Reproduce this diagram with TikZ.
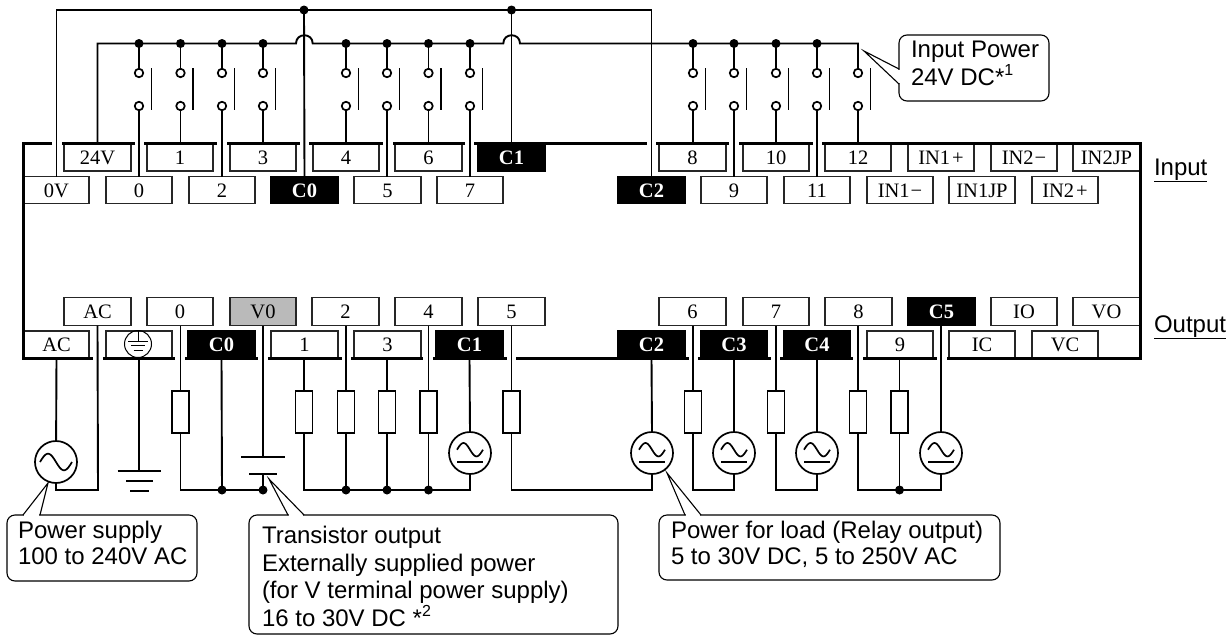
\documentclass[tikz,border=0pt]{standalone}
\usepackage{fontspec}
\setmainfont{Liberation Serif}
\newfontfamily\sansf{Liberation Sans}
\tikzset{
  x=1pt,y=-1pt,
  wire/.style={line width=1.9pt,line join=miter},
  frame/.style={line width=3pt},
  tbox/.style={draw=black!85,line width=1.3pt,fill=white,inner sep=0pt,outer sep=0pt,text height=14pt,text depth=0pt,font=\fontsize{20.5}{21}\selectfont},
  tblack/.style={tbox,draw=black,fill=black,text=white,font=\fontsize{20.5}{21}\bfseries\selectfont},
  tgray/.style={tbox,fill=black!27},
  dotn/.style={circle,fill=black,draw=none,minimum size=9pt,inner sep=0pt,outer sep=0pt},
  opn/.style={circle,draw=black,fill=white,line width=1.7pt,minimum size=8.5pt,inner sep=0pt,outer sep=0pt},
  res/.style={draw=black,fill=white,line width=1.7pt,minimum width=17pt,minimum height=42pt,inner sep=0pt,outer sep=0pt},
  src/.style={circle,draw=black,fill=white,line width=1.7pt,minimum size=42pt,inner sep=0pt,outer sep=0pt},
  bar/.style={line width=1.7pt},
  cbox/.style={draw=black,line width=1.1pt,fill=white,rounded corners=8pt,inner sep=0pt,outer sep=0pt},
  ctext/.style={inner sep=0pt,outer sep=0pt,anchor=north west,align=left},
  lbl/.style={inner sep=0pt,outer sep=0pt,anchor=base west,font=\sansf\fontsize{24}{27}\selectfont},
}
% terminal: [style]{name}{x1}{x2}{y1}{y2}{text}
\newcommand\term[7][tbox]{%
  \pgfmathsetmacro\tmw{#4-#3}\pgfmathsetmacro\tmh{#6-#5}%
  \pgfmathsetmacro\tmx{(#3+#4)/2}\pgfmathsetmacro\tmy{(#5+#6)/2}%
  \node[#1,minimum width=\tmw pt,minimum height=\tmh pt] (#2) at (\tmx,\tmy) {#7};%
}
\newcommand\sw[2]{% switch pair: name, x
  \node[opn] (sa#1) at (#2,73) {};
  \node[opn] (sb#1) at (#2,106) {};
  \draw[bar] ({#2+12.5},68) -- ({#2+12.5},110);
}
\newcommand\dcsrc[3]{% AC-with-bar source
  \node[src] (#1) at (#2,#3) {};
  \draw[bar,shift={(#2,#3)}] plot[domain=-13:13,samples=33,smooth] (\x,{-3.3+6.7*sin(\x*180/13)});
  \draw[bar,shift={(#2,#3)}] (-13,9) -- (13,9);
}
\begin{document}
\begin{tikzpicture}
\useasboundingbox (0,0) rectangle (1232,635);
% --- input terminals, upper row
\def\ya{143.5}\def\yb{171}
\term{t24}{64}{131}{\ya}{\yb}{24V}
\term{ti1}{147}{213}{\ya}{\yb}{1}
\term{ti3}{230}{296}{\ya}{\yb}{3}
\term{ti4}{313}{379}{\ya}{\yb}{4}
\term{ti6}{395}{462}{\ya}{\yb}{6}
\term[tblack]{tiC1}{478}{545}{\ya}{\yb}{C1}
\term{ti8}{659}{726}{\ya}{\yb}{8}
\term{ti10}{743}{809}{\ya}{\yb}{10}
\term{ti12}{825}{891}{\ya}{\yb}{12}
\term{tiIp}{908}{974}{\ya}{\yb}{IN1\kern2pt+}
\term{tiIIm}{991}{1057}{\ya}{\yb}{IN2\kern1pt−}
\term{tiIIJ}{1073}{1140}{\ya}{\yb}{IN2JP}
% --- input terminals, lower row
\def\ya{176.5}\def\yb{203.5}
\term{t0V}{24}{89}{\ya}{\yb}{0V}
\term{ti0}{106}{172}{\ya}{\yb}{0}
\term{ti2}{189}{255}{\ya}{\yb}{2}
\term[tblack]{tiC0}{271}{338}{\ya}{\yb}{C0}
\term{ti5}{354}{421}{\ya}{\yb}{5}
\term{ti7}{437}{503}{\ya}{\yb}{7}
\term[tblack]{tiC2}{618}{685}{\ya}{\yb}{C2}
\term{ti9}{701}{767}{\ya}{\yb}{9}
\term{ti11}{784}{850}{\ya}{\yb}{11}
\term{tiIm}{867}{933}{\ya}{\yb}{IN1\kern1pt−}
\term{tiIJ}{949}{1015}{\ya}{\yb}{IN1JP}
\term{tiIIp}{1032}{1098}{\ya}{\yb}{IN2\kern2pt+}
% --- output terminals, upper row
\def\ya{297.5}\def\yb{325.5}
\term{toAC}{64}{131}{\ya}{\yb}{AC}
\term{to0}{147}{213}{\ya}{\yb}{0}
\term[tgray]{toV}{230}{296}{\ya}{\yb}{V0}
\term{to2}{312}{379}{\ya}{\yb}{2}
\term{to4}{395}{462}{\ya}{\yb}{4}
\term{to5}{478}{545}{\ya}{\yb}{5}
\term{to6}{659}{726}{\ya}{\yb}{6}
\term{to7}{743}{809}{\ya}{\yb}{7}
\term{to8}{825}{892}{\ya}{\yb}{8}
\term[tblack]{toC5}{908}{975}{\ya}{\yb}{C5}
\term{toIO}{991}{1057}{\ya}{\yb}{IO}
\term{toVO}{1073}{1140}{\ya}{\yb}{VO}
% --- output terminals, lower row
\def\ya{331}\def\yb{358}
\term{tuAC}{24}{89}{\ya}{\yb}{AC}
\term{tuE}{106}{172}{\ya}{\yb}{}
\term[tblack]{tuC0}{188}{255}{\ya}{\yb}{C0}
\term{tu1}{271}{338}{\ya}{\yb}{1}
\term{tu3}{354}{421}{\ya}{\yb}{3}
\term[tblack]{tuC1}{436}{503}{\ya}{\yb}{C1}
\term[tblack]{tuC2}{618}{685}{\ya}{\yb}{C2}
\term[tblack]{tuC3}{701}{767}{\ya}{\yb}{C3}
\term[tblack]{tuC4}{784}{850}{\ya}{\yb}{C4}
\term{tu9}{867}{933}{\ya}{\yb}{9}
\term{tuIC}{949}{1015}{\ya}{\yb}{IC}
\term{tuVC}{1032}{1098}{\ya}{\yb}{VC}
% earth symbol inside terminal
\node[circle,draw=black,line width=1pt,minimum size=27pt,inner sep=0pt] (earth) at (138,344) {};
\draw[line width=1pt] (earth.north) -- (138,341);
\draw[line width=1pt] (128,341) -- (148,341) (131,345.5) -- (145,345.5) (133.5,350) -- (142.5,350);
% --- frame
\draw[frame] (52,143.5) -- (23,143.5) -- (23,358) -- (93,358);
\draw[frame] (947,358) -- (1140,358) -- (1140,143.5) -- (822,143.5);
\foreach \a/\b in {62/135,144/217,227/300,309/383,393/465,474/647,656/729,739/813}
  \draw[frame] (\a,143.5) -- (\b,143.5);
\foreach \a/\b in {103/175,185/258,268/342,351/423,433/507,516/689,698/771,780/853,863/937}
  \draw[frame] (\a,358) -- (\b,358);
% --- input wiring
\node[dotn] (ct1) at (304,10) {};
\node[dotn] (ct2) at (511.5,10) {};
\draw[wire] (t0V.north) |- (ct1.center) -- (ct2.center) -| (tiC2.north);
\draw[wire] (ct1.center) -- (tiC0.north);
\draw[wire] (ct2.center) -- (tiC1.north);
\foreach \n/\p in {a/139,b/180.5,c/222,d/263,e/346,f/387,g/428.5,h/470,i/693,j/734,k/776,l/817}{
  \node[dotn] (d\n) at (\p,43.5) {};
}
\foreach \n/\p in {a/139,b/180.5,c/222,d/263,e/346,f/387,g/428.5,h/470,i/693,j/734,k/776,l/817,m/858}{
  \sw{\n}{\p}
}
\coordinate (jA) at (296,43.5);\coordinate (jB) at (312.7,43.5);
\coordinate (jC) at (503.3,43.5);\coordinate (jD) at (520,43.5);
\coordinate (jK) at (858,43.5);
\draw[wire] (t24.north) |- (da.center) -- (db.center) -- (dc.center) -- (dd.center) -- (jA)
  .. controls (296,32.5) and (312.7,32.5) .. (jB) -- (de.center) -- (df.center) -- (dg.center) -- (dh.center) -- (jC)
  .. controls (503.3,32.5) and (520,32.5) .. (jD) -- (di.center) -- (dj.center) -- (dk.center) -- (dl.center) -- (jK) -- (sam);
\foreach \n in {a,b,c,d,e,f,g,h,i,j,k,l}{
  \draw[wire] (d\n.center) -- (sa\n);
}
\foreach \n/\t in {a/ti0,b/ti1,c/ti2,d/ti3,e/ti4,f/ti5,g/ti6,h/ti7,i/ti8,j/ti9,k/ti10,l/ti11,m/ti12}{
  \draw[wire] (sb\n) -- (sb\n |- \t.north);
}
% --- output wiring: resistors
\foreach \n/\p in {a/180.5,b/304,c/346,d/387,e/428.5,f/511.5,g/693,h/776,i/858,j/899.5}{
  \node[res] (r\n) at (\p,412) {};
}
\dcsrc{sC1}{470}{453}
\dcsrc{sC2}{652}{453}
\dcsrc{sC3}{734}{453}
\dcsrc{sC4}{817}{453}
\dcsrc{sC5}{941}{453}
\node[src] (sP) at (56,462) {};
\draw[bar,shift={(56,462)}] plot[domain=-16:16,samples=33,smooth] (\x,{8.3*sin(\x*180/16)});
\foreach \n/\p in {c/222,d/263,e/346,f/387,g/428.5,h/899.5}{
  \node[dotn] (b\n) at (\p,490) {};
}
\foreach \n/\t in {a/to0,b/tu1,c/to2,d/tu3,e/to4,f/to5,g/to6,h/to7,i/to8,j/tu9}{
  \draw[wire] (r\n |- \t.south) -- (r\n);
}
% AC mains
\coordinate (kP) at (98,490);
\draw[wire] (tuAC.south) -- (sP);
\draw[wire] (sP.south) |- (kP) -- (toAC.south);
% earth
\coordinate (gnd) at (139,471);
\draw[wire] (tuE.south) -- (gnd);
\draw[line width=1.9pt] (117.5,471) -- (160.5,471) (126,481) -- (153,481) (130,491) -- (149,491);
% transistor output common
\draw[wire] (ra.south) |- (bc.center) -- (bd.center);
\draw[wire] (tuC0.south) -- (bc.center);
\node[inner sep=0pt,minimum width=43pt] (plA) at (263,457) {};
\node[inner sep=0pt,minimum width=27pt] (plB) at (263,474) {};
\draw[wire] (toV.south) -- (plA.center);
\draw[line width=1.5pt] (plA.west) -- (plA.east);
\draw[line width=2.4pt] (plB.west) -- (plB.east);
\draw[wire] (plB.center) -- (bd.center);
% relay groups
\draw[wire] (rb.south) |- (be.center) -- (bf.center) -- (bg.center) -| (sC1.south);
\draw[wire] (rc.south) -- (be.center);
\draw[wire] (rd.south) -- (bf.center);
\draw[wire] (re.south) -- (bg.center);
\draw[wire] (tuC1.south) -- (sC1.north);
\coordinate (k5) at (511.5,490);
\draw[wire] (rf.south) -- (k5) -| (sC2.south);
\draw[wire] (tuC2.south) -- (sC2.north);
\coordinate (k6) at (693,490);
\draw[wire] (rg.south) -- (k6) -| (sC3.south);
\draw[wire] (tuC3.south) -- (sC3.north);
\coordinate (k7) at (776,490);
\draw[wire] (rh.south) -- (k7) -| (sC4.south);
\draw[wire] (tuC4.south) -- (sC4.north);
\coordinate (k8) at (858,490);
\draw[wire] (ri.south) -- (k8) -- (bh.center) -| (sC5.south);
\draw[wire] (rj.south) -- (bh.center);
\draw[wire] (toC5.south -| sC5.north) -- (sC5.north);
% --- callouts
\node[cbox,minimum width=150pt,minimum height=66pt] (cI) at (974,68) {};
\draw[white,line width=2pt] (899,70) -- (899,83);
\draw[line width=1.1pt] (899,69) -- (864,51) -- (899,84);
\node[ctext,font=\sansf\fontsize{24}{28}\selectfont] (cIt) at (911,41) {Input Power\\24V DC*\raisebox{0.42em}{\fontsize{16}{16}\selectfont 1}};
\node[cbox,minimum width=190pt,minimum height=66pt] (cP) at (102,548) {};
\draw[white,line width=2pt] (24,515) -- (39,515);
\draw[line width=1.1pt] (23,515) -- (48,483) -- (40,515);
\node[ctext,font=\sansf\fontsize{24}{26.5}\selectfont] (cPt) at (18,521) {Power supply\\100 to 240V AC};
\node[cbox,minimum width=369pt,minimum height=119pt] (cT) at (433.5,574.5) {};
\draw[white,line width=2pt] (289,515) -- (303,515);
\draw[line width=1.1pt] (288,515) -- (269,479) -- (304,515);
\node[ctext,font=\sansf\fontsize{24}{27.5}\selectfont] (cTt) at (262,526.5) {Transistor output\\Externally supplied power\\(for V terminal power supply)\\16 to 30V DC *\raisebox{0.42em}{\fontsize{16}{16}\selectfont 2}};
\node[cbox,minimum width=341pt,minimum height=65pt] (cL) at (829.5,547.5) {};
\draw[white,line width=2pt] (686,515) -- (700,515);
\draw[line width=1.1pt] (685,515) -- (667,473) -- (701,515);
\node[ctext,font=\sansf\fontsize{24}{26}\selectfont] (cLt) at (671,521) {Power for load (Relay output)\\5 to 30V DC, 5 to 250V AC};
% --- side labels
\node[lbl] (lin) at (1154,175) {\underline{Input}};
\node[lbl] (lout) at (1154,332) {\underline{Output}};
\end{tikzpicture}
\end{document}
